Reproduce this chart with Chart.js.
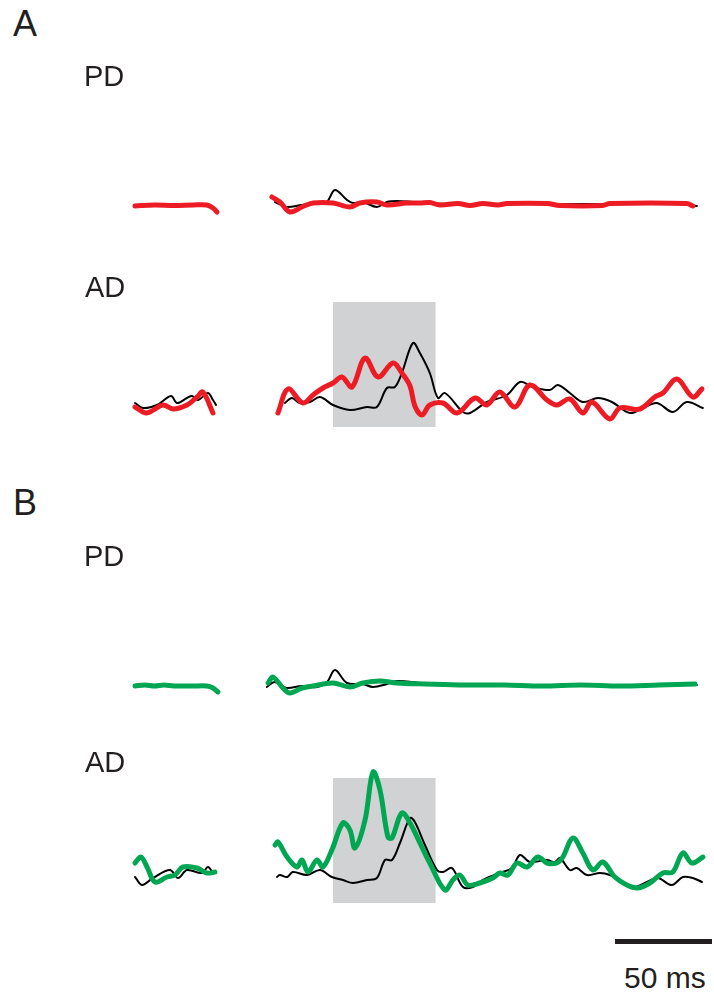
<!DOCTYPE html>
<html>
<head>
<meta charset="utf-8">
<script src="https://cdn.jsdelivr.net/npm/chart.js@4/dist/chart.umd.min.js"></script>
<style>
  body { margin: 0; background: #fff; width: 714px; height: 998px; overflow: hidden; position: relative; }
  canvas { position: absolute; left: 0; }
  .lbl { position: absolute; font-family: "Liberation Sans", Arial, sans-serif; color: #231f20; line-height: 1; white-space: nowrap; z-index: 2; }
  .big { font-size: 36px; }
  .mid { font-size: 29px; }
</style>
</head>
<body>
<div class="lbl big" style="left:13px; top:5.5px;">A</div>
<div class="lbl mid" style="left:84px; top:61.5px;">PD</div>
<div class="lbl mid" style="left:85px; top:272.5px;">AD</div>
<div class="lbl big" style="left:13px; top:484.5px;">B</div>
<div class="lbl mid" style="left:84px; top:541.5px;">PD</div>
<div class="lbl mid" style="left:85px; top:747.5px;">AD</div>
<div class="lbl" style="left:624px; top:962.6px; font-size:30px;">50 ms</div>

<canvas id="aPD" width="714" height="100" style="top:150px"></canvas>
<canvas id="aAD" width="714" height="150" style="top:290px"></canvas>
<canvas id="bPD" width="714" height="100" style="top:630px"></canvas>
<canvas id="bAD" width="714" height="200" style="top:760px"></canvas>

<script>
// time in ms from trace start, amplitude in arbitrary units (null = recording gap)
const aPdRedT = [0, 10, 20, 30, 37, 40.2, 42.3, 55, 70.6, 74.7, 79.9, 86.1, 91.8, 102.1, 110.8, 116, 124.7, 129.9, 140.2, 146.9, 152, 157.2, 166.5, 172.7, 179.4, 187.1, 191.8, 212.4, 219.1, 241.2, 244.8, 284.5, 287.6];
const aPdRedV = [-2, -1, -1.5, -1, -1, -4, -8, null, 7, 2, -8, -3, 1, 1, -3, 1, 2, -1, 1, 1, 1.5, -1, 0.5, -1.5, 0.5, -1, 0.5, 0.5, -1.5, -1.5, 0.5, 0.5, -2];
const aPdBlackT = [0, 20, 37, 40.2, 42.8, 55, 72.2, 78, 86, 96, 99, 103.1, 109.3, 112.4, 117.5, 124.7, 129.9, 135, 143.3, 160, 200, 240, 280, 289.7];
const aPdBlackV = [-1, -1, -1, -4, -8, null, 2, -3, -1, 1, 2, 14, 4, 1, 2, -3, 2, 3, 2, 0, 0, 0, 0, -2];

const aAdRedT = [0, 6, 14.4, 19.6, 26.8, 32, 35, 40.2, 55, 73.7, 78.9, 86.6, 91.8, 96.9, 102.1, 106.7, 111.9, 118.6, 125.3, 133, 137.6, 141.8, 144.3, 148, 152, 158.8, 166, 175.3, 181.4, 188.1, 195.9, 203.6, 212.4, 217.5, 224.2, 230.9, 235.6, 244.8, 250, 260.3, 268, 272.2, 279.4, 287.6, 292.3];
const aAdRedV = [1, -5, 3, -1, 3, 11, 16, -5, null, -5, 19, 5, 13, 20, 25, 31, 21, 50, 31, 45, 35, 22, 2, -7, 3, 5, -5, 10, 3, 16, 1, 23, 8, 3, 9, -5, 6, -11, 0, -1, 11, 15, 29, 11, 19];
const aAdBlackT = [0, 4.1, 11.3, 18.6, 21.6, 26.8, 29.4, 32.5, 37.6, 40.2, 41.8, 55, 77.3, 80.9, 85, 90.2, 95.4, 102.1, 110.8, 119.6, 124.7, 129.9, 134, 137.6, 143.3, 146.9, 152, 156.2, 159.8, 169.1, 172.7, 181.4, 191.8, 198.5, 205.2, 213.9, 218, 224.2, 230.9, 238.7, 245.9, 255.2, 261.9, 269.1, 277.3, 284.5, 292.8];
const aAdBlackV = [5, 0, 3, 12, 5, 10, 12, 8, 15, 8, 3, null, 5, 10, 5, 6, 11, 3, -2, 1, 1, 20, 21, 35, 65, 55, 35, 10, 15, -4, -5, 6, 13, 26, 21, 18, 23, 15, 6, 10, 6, -5, 0, 5, -4, 6, 0];

const bPdGreenT = [0, 5, 10, 15, 20, 30, 37, 40.2, 42.8, 55, 68.6, 71.1, 76.3, 79.9, 86.1, 91.8, 102.1, 110.8, 117.5, 126.3, 135, 150, 170, 190, 210, 230, 250, 270, 288.7];
const bPdGreenV = [-1, 0, -1, 0, -1, -1, -1, -3, -7, null, 2, 8, -3, -8, -3, -1, 2, -2, 2, 4, 2, 1, 0, 0, -1, 0, -1, 0, 1];
const bPdBlackT = [0, 20, 37, 40.2, 42.8, 55, 68, 72, 78, 86, 93.8, 99, 103.1, 109.3, 117.5, 122.7, 130, 135, 143.3, 150, 200, 250, 289.7];
const bPdBlackV = [-1, -1, -1, -3, -7, null, -2, 3, -3, -1, -2, 3, 15, 2, 1, -2, 1, 4, 3, 1, 0, 0, 0];

const bAdGreenT = [0, 3.1, 6.2, 10.3, 16.5, 20.6, 24.7, 32, 37, 41.2, 55, 72.2, 73.7, 78.4, 83.5, 86.1, 89.2, 93.8, 96.9, 101.5, 107.2, 110.8, 113.4, 118.6, 122.7, 126.3, 130.4, 132.5, 137.6, 141.8, 146.9, 152, 159.8, 163.9, 167.5, 171.6, 177.8, 184.5, 188.1, 192.3, 196.9, 202.1, 207.7, 212.4, 217.5, 220.6, 225.8, 230.9, 236.1, 241.2, 247.4, 253.6, 259.3, 265.5, 272.2, 277.3, 282.5, 287.1, 292.8];
const bAdGreenV = [13, 19, 9, -6, -1, 1, 9, 8, 3, 4, null, 31, 34, 19, 9, 16, 4, 16, 9, 26, 53, 46, 28, 56, 104, 86, 39, 38, 63, 53, 33, 13, -14, -4, 1, -9, -7, -2, 3, 1, 13, 9, 19, 13, 13, 19, 38, 23, 6, 14, -1, -9, -12, -7, 3, 4, 23, 13, 19];
const bAdBlackT = [0, 3.6, 9.3, 18, 22.2, 26.8, 34.5, 37.6, 40.2, 55, 73.2, 74.7, 78.4, 81.4, 88.7, 95.4, 101.5, 107.2, 112.4, 119.6, 124.7, 128.9, 132.5, 136.6, 141.8, 144.3, 149.5, 155.7, 158.8, 163.4, 169.1, 174.2, 179.4, 188.1, 194.3, 198.5, 203.6, 212.4, 216.5, 219.1, 224.2, 227.8, 233, 239.7, 244.8, 256.7, 263.9, 269.6, 276.8, 282.5, 287.6, 292.3];
const bAdBlackV = [-1, -9, -2, 6, -2, 6, 3, 9, 3, null, -1, 1, -1, 4, 1, 6, -1, -4, -7, -4, -2, 16, 16, 33, 58, 54, 31, 6, 4, 8, -11, -11, -4, 3, 8, 21, 14, 16, 14, 18, 6, 8, 1, 3, 1, -11, -6, -2, -9, -1, -2, -6];

// stimulus window (ms) and scale bar (ms)
const shadeStart = 102.1;
const shadeEnd = 155;
const barStart = 247.5;
const barEnd = 297.5;

const RED = '#ed1c24';
const GREEN = '#00a651';
const INK = '#231f20';

function pts(t, v) {
    return t.map((x, i) => ({ x: x, y: v[i] }));
}

const shadePlugin = {
    id: 'shade',
    beforeDatasetsDraw(chart, args, opts) {
        if (!opts || opts.top === undefined) return;
        const x = chart.scales.x, y = chart.scales.y, c = chart.ctx;
        const x0 = x.getPixelForValue(opts.from), x1 = x.getPixelForValue(opts.to);
        const y0 = y.getPixelForValue(opts.top), y1 = y.getPixelForValue(opts.bottom);
        c.save();
        c.fillStyle = '#d1d2d4';
        c.fillRect(x0, y0, x1 - x0, y1 - y0);
        c.restore();
    }
};

const barPlugin = {
    id: 'scaleBar',
    afterDatasetsDraw(chart, args, opts) {
        if (!opts || opts.at === undefined) return;
        const x = chart.scales.x, y = chart.scales.y, c = chart.ctx;
        const yy = y.getPixelForValue(opts.at);
        c.save();
        c.strokeStyle = INK;
        c.lineWidth = 5;
        c.beginPath();
        c.moveTo(x.getPixelForValue(opts.from), yy);
        c.lineTo(x.getPixelForValue(opts.to), yy);
        c.stroke();
        c.restore();
    }
};

function makeTrace(id, blackT, blackV, colT, colV, color, yMin, yMax, extra) {
    new Chart(document.getElementById(id), {
        type: 'line',
        data: {
            datasets: [{
                data: pts(colT, colV),
                borderColor: color,
                borderWidth: 5,
                order: 1
            }, {
                data: pts(blackT, blackV),
                borderColor: '#000',
                borderWidth: 2,
                order: 2
            }]
        },
        options: {
            responsive: false,
            animation: false,
            events: [],
            layout: { padding: { left: 135, right: 2, top: 0, bottom: 0 } },
            elements: {
                point: { radius: 0 },
                line: { tension: 0.35, borderCapStyle: 'round', borderJoinStyle: 'round', fill: false }
            },
            datasets: { line: { clip: false, spanGaps: false } },
            scales: {
                x: { type: 'linear', min: 0, max: 297.5, display: false },
                y: { min: yMin, max: yMax, display: false }
            },
            plugins: Object.assign({
                legend: { display: false },
                tooltip: { enabled: false }
            }, extra || {})
        },
        plugins: [shadePlugin, barPlugin]
    });
}

makeTrace('aPD', aPdBlackT, aPdBlackV, aPdRedT, aPdRedV, RED, -46, 54);
makeTrace('aAD', aAdBlackT, aAdBlackV, aAdRedT, aAdRedV, RED, -32, 118,
    { shade: { from: shadeStart, to: shadeEnd, top: 106, bottom: -19 } });
makeTrace('bPD', bPdBlackT, bPdBlackV, bPdGreenT, bPdGreenV, GREEN, -45, 55);
makeTrace('bAD', bAdBlackT, bAdBlackV, bAdGreenT, bAdGreenV, GREEN, -84, 116,
    { shade: { from: shadeStart, to: shadeEnd, top: 98, bottom: -27 },
      scaleBar: { from: barStart, to: barEnd, at: -65.5 } });
</script>
</body>
</html>
